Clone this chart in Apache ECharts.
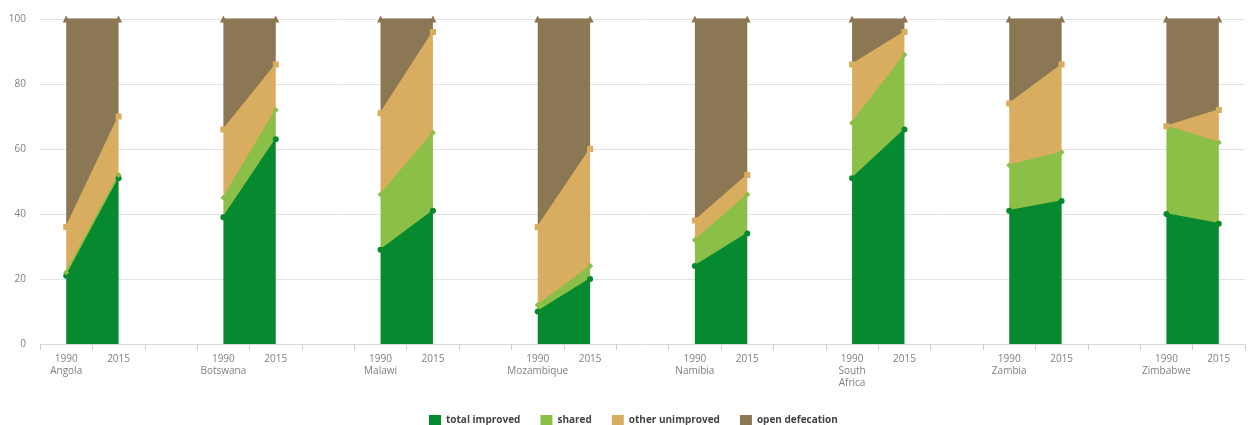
<!DOCTYPE html>
<html>
<head>
<meta charset="utf-8">
<script src="https://cdn.jsdelivr.net/npm/echarts@6/dist/echarts.min.js"></script>
<style>
html,body{margin:0;padding:0;background:#fff;}
#c{width:1248px;height:425px;}
</style>
</head>
<body>
<div id="c"></div>
<script>
const countries = ['Angola', 'Botswana', 'Malawi', 'Mozambique', 'Namibia', 'South\nAfrica', 'Zambia', 'Zimbabwe'];
const years = ['1990', '2015'];
// values per country: [1990, 2015]
const totalImproved   = [[21, 51], [39, 63], [29, 41], [10, 20], [24, 34], [51, 66], [41, 44], [40, 37]];
const shared          = [[1, 1],   [6, 9],   [17, 24], [2, 4],   [8, 12],  [17, 23], [14, 15], [27, 25]];
const otherUnimproved = [[14, 18], [21, 14], [25, 31], [24, 36], [6, 6],   [18, 7],  [19, 27], [0, 10]];
const openDefecation  = [[64, 30], [34, 14], [29, 4],  [64, 40], [62, 48], [14, 4],  [26, 14], [33, 28]];
const yTicks = [0, 20, 40, 60, 80, 100];

const categories = [];
const catLabels = [];
countries.forEach((c, i) => {
  categories.push(c + '|' + years[0]); catLabels.push(years[0] + '\n' + c);
  categories.push(c + '|' + years[1]); catLabels.push(years[1]);
  if (i < countries.length - 1) { categories.push('gap' + i); catLabels.push(''); }
});
function expand(arr) {
  const out = [];
  arr.forEach((v, i) => {
    out.push(v[0]); out.push(v[1]);
    if (i < arr.length - 1) out.push(null);
  });
  return out;
}
const colors = { ti: '#078a2f', sh: '#8bbf47', ou: '#d9ad5f', od: '#8b7754' };
function mk(name, arr, color, symbol, size) {
  return {
    name: name, type: 'line', stack: 'total', data: expand(arr),
    symbol: symbol, symbolSize: size, showSymbol: true,
    connectNulls: false,
    itemStyle: { color: color },
    lineStyle: { color: color, width: 1.5 },
    areaStyle: { color: color, opacity: 1 },
    emphasis: { disabled: true },
    animation: false
  };
}
const chart = echarts.init(document.getElementById('c'));
chart.setOption({
  animation: false,
  grid: { left: 40, right: 3, top: 19, bottom: 81, containLabel: false },
  legend: {
    top: 410, left: 424, itemWidth: 12, itemHeight: 10, itemGap: 20,
    icon: 'rect',
    textStyle: { fontFamily: 'Open Sans', fontSize: 10, fontWeight: 'bold', color: '#444' },
    data: ['total improved', 'shared', 'other unimproved', 'open defecation']
  },
  xAxis: {
    type: 'category', data: categories, boundaryGap: true,
    axisLine: { lineStyle: { color: '#d8d8d8' } },
    axisTick: { show: true, interval: 0, length: 6, lineStyle: { color: '#cfcfcf' } },
    axisLabel: {
      interval: 0, margin: 9, color: '#808080', fontFamily: 'Open Sans', fontSize: 10, lineHeight: 12,
      formatter: (v, i) => catLabels[i]
    }
  },
  yAxis: {
    type: 'value', min: yTicks[0], max: yTicks[yTicks.length - 1], interval: yTicks[1] - yTicks[0],
    axisLine: { show: false }, axisTick: { show: false },
    splitLine: { lineStyle: { color: '#e3e3e3' } },
    axisLabel: { color: '#808080', fontFamily: 'Open Sans', fontSize: 10, margin: 14 }
  },
  series: [
    mk('total improved', totalImproved, colors.ti, 'circle', 6),
    mk('shared', shared, colors.sh, 'diamond', 6),
    mk('other unimproved', otherUnimproved, colors.ou, 'rect', 6),
    mk('open defecation', openDefecation, colors.od, 'triangle', 7)
  ]
});
</script>
</body>
</html>
